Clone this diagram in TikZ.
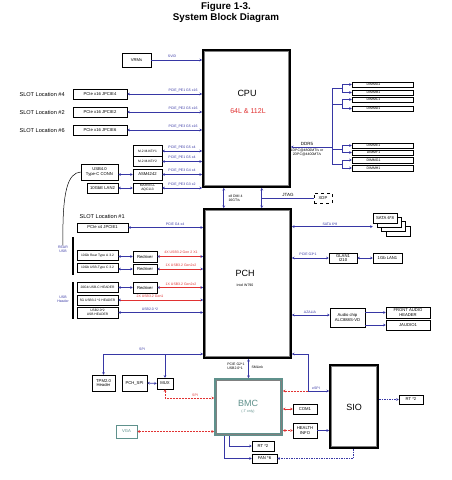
\documentclass[tikz,border=0pt]{standalone}
\usepackage{fontspec}
\setmainfont{Liberation Sans}
\usetikzlibrary{arrows.meta,calc}
\definecolor{lb}{RGB}{55,55,165}
\definecolor{lr}{RGB}{225,50,50}
\definecolor{tl}{RGB}{95,145,140}
\newcommand{\myTiny}{\fontsize{3.5}{4}\selectfont}
\newcommand{\myXS}{\fontsize{3.3}{3.8}\selectfont}
\newcommand{\mySmall}{\fontsize{4.2}{4.6}\selectfont}
\newcommand{\mySlot}{\fontsize{5.6}{6.5}\selectfont}
\newcommand{\myMidF}{\fontsize{7}{8}\selectfont}
\newcommand{\myBigF}{\fontsize{9}{10}\selectfont}
\newcommand{\myTitleF}{\fontsize{9.8}{11}\selectfont}
\tikzset{
  bx/.style 2 args={draw=black, line width=0.6pt, fill=white, inner sep=0.3pt, align=center, font=\mySmall, minimum width=#1, minimum height=#2},
  big/.style={draw=black, line width=2.5pt, fill=white},
  con/.style={draw=lb, line width=0.7pt},
  rbl/.style={draw=lr, line width=0.6pt, arrows={Stealth[length=2.5pt,width=2.8pt,color=lb]-Stealth[length=2.5pt,width=2.8pt,color=lb]}},
  rd/.style={draw=lr, line width=0.6pt, dash pattern=on 2pt off 1pt},
  lbl/.style={font=\myTiny, text=lb, inner sep=0.3pt},
  rlbl/.style={font=\myTiny, text=lr, inner sep=0.3pt},
  dimm/.style={draw=black, line width=0.5pt, fill=white, minimum width=61, minimum height=5.5, inner sep=0pt, font=\myTiny},
}
\begin{document}
\begin{tikzpicture}[x=1pt,y=-1pt,>={Stealth[length=2.5pt,width=2.8pt]}]
\useasboundingbox[fill=white] (0,0) rectangle (451,480);

% title
\node[font=\bfseries\myTitleF] (t1) at (226,7) {Figure 1-3.};
\node[font=\bfseries\myTitleF] (t2) at (226,17.5) {System Block Diagram};

% big blocks
\node[big, minimum width=86.5, minimum height=136.5] (cpu) at (246.5,118.5) {};
\draw[gray, line width=0.4pt] ([shift={(2.5,2.5)}]cpu.north west) rectangle ([shift={(-2.5,-2.5)}]cpu.south east);
\node[font=\myBigF] (cputx) at (247,93) {CPU};
\node[font=\myMidF, text=lr] (cpul) at (248,111) {64L \& 112L};

\node[big, minimum width=86.5, minimum height=148.5] (pch) at (247.5,283.5) {};
\draw[gray, line width=0.4pt] ([shift={(2.5,2.5)}]pch.north west) rectangle ([shift={(-2.5,-2.5)}]pch.south east);
\node[font=\myBigF] (pchtx) at (245,273) {PCH};
\node[font=\myTiny] (pchsub) at (245,285) {Intel W790};

\node[big, minimum width=47.5, minimum height=82.5] (sio) at (354,406.5) {};
\draw[gray, line width=0.4pt] ([shift={(2.5,2.5)}]sio.north west) rectangle ([shift={(-2.5,-2.5)}]sio.south east);
\node[font=\myBigF] (siotx) at (354,407) {SIO};

\node[draw=tl, line width=3pt, fill=white, minimum width=66, minimum height=55] (bmc) at (248.5,407) {};
\draw[gray, line width=0.4pt] ([shift={(2,2)}]bmc.north west) rectangle ([shift={(-2,-2)}]bmc.south east);
\node[font=\myBigF, text=tl] (bmctx) at (248,403) {BMC};
\node[font=\myTiny, text=tl] (bmcsub) at (248,412) {(-T only)};

% VRM
\node[bx={29}{14}] (vrm) at (136.5,60) {VRMs};
\draw[con,->] (vrm.east) -- (vrm.east -| cpu.west);
\node[lbl] (svid) at (172,56.5) {SVID};

% slots
\node[font=\mySlot, anchor=west] (sl4) at (16,94) {SLOT Location \#4};
\node[font=\mySlot, anchor=west] (sl2) at (16,112) {SLOT Location \#2};
\node[font=\mySlot, anchor=west] (sl6) at (16,130) {SLOT Location \#6};
\node[bx={54}{10}] (s4) at (100,94) {PCIe x16 JPCIE4};
\node[bx={54}{10}] (s2) at (100,112) {PCIe x16 JPCIE2};
\node[bx={54}{10}] (s6) at (100,130) {PCIe x16 JPCIE6};
\foreach \s in {s4,s2,s6}{\draw[con,<->] (\s.east) -- (\s.east -| cpu.west);}
\node[lbl] (ls4) at (183,90.5) {PCIE\_PE1 G5 x16};
\node[lbl] (ls2) at (183,108.5) {PCIE\_PE2 G5 x16};
\node[lbl] (ls6) at (183,126.5) {PCIE\_PE3 G5 x16};

% M.2 / USB4 / LAN2
\node[bx={29}{10.5}, font=\myXS] (m1) at (147.5,151) {M.2 M-KEY1};
\node[bx={29}{10.5}, font=\myXS] (m2) at (147.5,161.5) {M.2 M-KEY2};
\node[bx={29}{11}] (asm) at (147.5,174.5) {ASM4242};
\node[bx={29}{10}, font=\myXS] (aqc) at (147.5,188) {MARVELL\\AQC113};
\node[bx={37}{16}] (usb4) at (99.5,172) {USB4.0\\Type-C CONN};
\node[bx={31}{10}] (lan2) at (102.5,188) {10GbE LAN2};
\foreach \s in {m1,m2,asm,aqc}{\draw[con,<->] (\s.east) -- (\s.east -| cpu.west);}
\draw[con,<->] (usb4.east |- asm.west) -- (asm.west);
\draw[con,<->] (lan2.east) -- (aqc.west);
\node[lbl] (lm1) at (182,147.5) {PCIE\_PE0 G5 x4};
\node[lbl] (lm2) at (182,158) {PCIE\_PE1 G5 x4};
\node[lbl] (lasm) at (182,171) {PCIE\_PE3 G4 x4};
\node[lbl] (laqc) at (182,184.5) {PCIE\_PE3 G3 x2};

% slot 1
\node[font=\mySlot, anchor=west] (sl1) at (76,216) {SLOT Location \#1};
\node[bx={51}{9}] (s1) at (102.5,227.5) {PCIe x4 JPCIE1};
\draw[con,<->] (s1.east) -- (s1.east -| pch.west);
\node[lbl] (ls1) at (175,224) {PCIE G4 x4};

% rear usb
\node[lbl, align=center] (rear) at (63,249) {REAR\\USB};
\draw[black, line width=0.5pt] (usb4.west) .. controls (68,173) and (62,190) .. (rear.north);
\node[lbl, align=center] (hdr) at (63,299) {USB\\Header};
\draw[black, line width=1.8pt] (73,237) -- (73,275);
\draw[black, line width=1.8pt] (73,282) -- (73,319);

\node[bx={41}{9.5}, font=\myXS] (u1) at (97.5,255.5) {10Gb Rear Type A 3.2};
\node[bx={41}{9.5}, font=\myXS] (u2) at (97.5,268) {10Gb USB-Type C 3.2};
\node[bx={41}{10}, font=\myXS] (u3) at (97.5,287) {20Gb USB-C HEADER};
\node[bx={41}{10}, font=\myXS] (u4) at (97.5,300) {5G USB3.2 *2 HEADER};
\node[bx={41}{11}, font=\myXS] (u5) at (97.5,312.5) {USB2.0*2\\USB HEADER};
\node[bx={24}{11}] (r1) at (145,256.5) {Redriver};
\node[bx={24}{10}] (r2) at (145,269) {Redriver};
\node[bx={24}{11}] (r3) at (145,287.5) {Redriver};
\draw[con,<->] (u1.east |- r1.west) -- (r1.west);
\draw[con,<->] (u2.east |- r2.west) -- (r2.west);
\draw[con,<->] (u3.east |- r3.west) -- (r3.west);
\draw[rbl] (r1.east) -- (r1.east -| pch.west);
\draw[rbl] (r2.east) -- (r2.east -| pch.west);
\draw[rbl] (r3.east) -- (r3.east -| pch.west);
\draw[rbl] (u4.east) -- (u4.east -| pch.west);
\draw[con,<->] (u5.east) -- (u5.east -| pch.west);
\node[rlbl] (lr1) at (181,252.5) {4X USB3.2 Gen 2 X1};
\node[rlbl] (lr2) at (181,265.5) {1X USB3.2 Gen2x2};
\node[rlbl] (lr3) at (181,284) {1X USB3.2 Gen2x2};
\node[rlbl] (lu4) at (150,296.5) {2X USB3.2 Gen1};
\node[lbl] (lu5) at (150,309.5) {USB2.0 *2};

% DMI / JTAG
\draw[con,<->] ($(cpu.south west)+(21.75,0)$) -- ($(pch.north west)+(20.75,0)$);
\node[font=\myTiny, align=left, anchor=west, inner sep=0.3pt] (dmi) at (228,198.5) {x8 DMI 4\\16GT/s};
\coordinate (jt) at ($(cpu.south west)+(59.75,0)$);
\draw[con,<->] (jt) -- ($(pch.north west)+(58.75,0)$);
\node[bx={18}{10}, dashed] (xdp) at (323,198) {XDP};
\draw[con] (xdp.west -| jt) -- (xdp.west);
\node[font=\fontsize{4.5}{5}\selectfont, inner sep=0.3pt] (jtag) at (288,194.5) {JTAG};

% DDR5
\node[dimm] (d1) at (382.5,84.5) {\hspace*{-18pt}DIMMA1};
\node[dimm] (d2) at (382.5,92.5) {\hspace*{-18pt}DIMMB1};
\node[dimm] (d3) at (382.5,99.5) {\hspace*{-18pt}DIMMC1};
\node[dimm] (d4) at (382.5,108.5) {\hspace*{-18pt}DIMMD1};
\node[dimm] (d5) at (382.5,145.5) {\hspace*{-18pt}DIMME1};
\node[dimm] (d6) at (382.5,152.5) {\hspace*{-18pt}DIMMF1};
\node[dimm] (d7) at (382.5,160) {\hspace*{-18pt}DIMMG1};
\node[dimm] (d8) at (382.5,168) {\hspace*{-18pt}DIMMH1};
\coordinate (br) at (342,0);
\coordinate (trT) at (332,88.5);
\coordinate (trB) at (332,164);
\coordinate (ddr) at (332,147);
\draw[con] (trT) -- (trB);
\draw[con,<-] (ddr -| cpu.east) -- (ddr);
\foreach \a/\b in {d1/d2,d3/d4,d5/d6,d7/d8}{
  \coordinate (mm) at ($(\a.west)!0.5!(\b.west)$);
  \draw[con] (\a.west -| br) -- (\b.west -| br);
  \draw[con,->] (\a.west -| br) -- (\a.west);
  \draw[con,->] (\b.west -| br) -- (\b.west);
  \draw[con] (mm -| trT) -- (mm -| br);
}
\node[font=\fontsize{4.5}{5}\selectfont, inner sep=0.3pt] (ddrl) at (307,143.5) {DDR5};
\node[font=\myTiny, align=center, inner sep=0.3pt] (ddrs) at (307,152) {1DPC@4800MT/s or\\2DPC@4400MT/s};

% SATA
\foreach \i in {3,2,1}{\node[bx={24}{10}] (sata\i) at ({385+4.3*\i},{218+4.3*\i}) {};}
\node[bx={24}{10}] (sata0) at (385,218) {SATA 6*8};
\draw[con,<->] (pch.east |- sata2.west) -- (sata0.west |- sata2.west);
\node[lbl] (lsata) at (330,224) {SATA 6*8};

% LAN1
\node[bx={28}{10}] (glan) at (343,258) {GLAN1\\I210};
\node[bx={29}{10}] (lan1) at (387.5,258) {1Gb LAN1};
\draw[con,<->] (pch.east |- glan.west) -- (glan.west);
\draw[con,<->] (glan.east) -- (lan1.west);
\node[lbl] (lglan) at (308,254.5) {PCIE G3*1};

% audio
\node[bx={35}{19}] (aud) at (347.5,317.5) {Audio chip\\ALC888S-VD};
\node[bx={44}{11}] (fa) at (408,312.5) {FRONT AUDIO\\HEADER};
\node[bx={44}{10}] (ja) at (408,325) {JAUDIO1};
\coordinate (azy) at ($(pch.east)+(0,31.5)$);
\draw[con,<->] (azy) -- (azy -| aud.west);
\draw[con,->] (aud.east |- fa.west) -- (fa.west);
\draw[con,->] (aud.east |- ja.west) -- (ja.west);
\node[lbl] (laud) at (310,312) {AZALIA};

% SPI / TPM / MUX
\coordinate (spiy) at ($(pch.south west)+(0,-5)$);
\node[bx={23}{16}] (tpm) at (103.5,383) {TPM2.0\\Header};
\node[bx={25}{16}] (pspi) at (134.5,383) {PCH\_SPI};
\node[bx={16}{11}] (mux) at (165,383.5) {MUX};
\draw[con,<->] (spiy) -| (tpm.north);
\draw[con,->] (spiy -| mux.north) -- (mux.north);
\draw[con,<->] (pspi.east) -- (mux.west);
\node[lbl] (lspi) at (142,349.5) {SPI};
\draw[rd,<->] (mux.south) |- ($(bmc.west)+(0,-9)$);
\node[rlbl] (lspi2) at (195,395.5) {SPI};
\node[draw=tl, line width=0.7pt, fill=white, minimum width=21, minimum height=13, font=\mySmall, text=tl] (vga) at (126.5,431.5) {VGA};
\draw[rd,<->] (vga.east) -- (vga.east -| bmc.west);

% PCH - BMC
\draw[con,<->] (bmc.north |- pch.south) -- (bmc.north);
\node[font=\myTiny, align=left, anchor=east, inner sep=0.3pt] (lpb) at (245,366.5) {PCIE G2*1\\USB2.0*1};
\node[font=\myTiny, anchor=west, inner sep=0.3pt] (lsml) at (251,367) {SMLink};

% BMC bottom
\node[bx={22}{10}] (rt1) at (263,446) {RT *2};
\node[bx={25}{9}] (fan) at (264.5,458.5) {FAN *6};
\draw[con,->] ($(bmc.south west)+(10.5,0)$) |- (fan.west);
\draw[con,->] ($(bmc.south west)+(15.5,0)$) |- (rt1.west);
\draw[con,dash pattern=on 1.5pt off 1pt,->] ($(sio.south)+(-1,0)$) |- (fan.east);

% BMC right
\node[bx={24}{10}] (com1) at (305,409) {COM1};
\node[bx={24}{15}] (hlth) at (305,430.5) {HEALTH\\INFO};
\draw[draw=lr, line width=0.6pt, <->] (com1.west -| bmc.east) -- (com1.west);
\draw[rd,<->] (hlth.west -| bmc.east) -- (hlth.west);
\draw[con,->] (hlth.east) -- (hlth.east -| sio.west);

% eSPI
\coordinate (ej) at (308,391);
\draw[con,<->] ($(pch.south east)+(0,-5)$) -| (ej) -- (ej -| sio.west);
\draw[rd,->] (ej) -- (ej -| bmc.east);
\node[lbl] (lespi) at (316,388) {eSPI};

% SIO right
\node[bx={24}{9}] (rt2) at (411,399.5) {RT *2};
\draw[con,dash pattern=on 1.5pt off 1pt,->] (rt2.west -| sio.east) -- (rt2.west);
\end{tikzpicture}
\end{document}
